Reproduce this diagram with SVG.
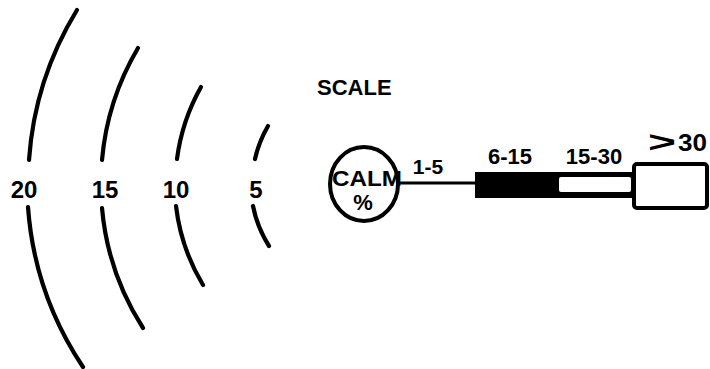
<svg xmlns="http://www.w3.org/2000/svg" width="710" height="369" viewBox="0 0 710 369">
<style>
.arc{fill:none;stroke:#000;stroke-width:4.2;stroke-linecap:round}
.t{font-family:"Liberation Sans",Arial,sans-serif;font-weight:bold;fill:#000}
.ln{fill:none;stroke:#000;stroke-width:3}
</style>
<rect width="710" height="369" fill="#fff"/>
<g id="rings">
<g id="ring20"><path class="arc" d="M77 10 A331 331 0 0 0 29 160"/><path class="arc" d="M28 207 A331 331 0 0 0 83 367"/><text class="t" x="24" y="198" font-size="24" text-anchor="middle">20</text></g>
<g id="ring15"><path class="arc" d="M138 48 A266 266 0 0 0 102 160"/><path class="arc" d="M102 208 A266 266 0 0 0 143 328"/><text class="t" x="105" y="198" font-size="24" text-anchor="middle">15</text></g>
<g id="ring10"><path class="arc" d="M201 87 A198 198 0 0 0 177 159"/><path class="arc" d="M176 206 A198 198 0 0 0 203 285"/><text class="t" x="176" y="198" font-size="24" text-anchor="middle">10</text></g>
<g id="ring5"><path class="arc" d="M268 126 A117 117 0 0 0 255 159"/><path class="arc" d="M253 206 A117 117 0 0 0 269 246"/><text class="t" x="256" y="198" font-size="24" text-anchor="middle">5</text></g>
</g>
<g id="connectors">
<line class="ln" x1="400" y1="183" x2="476" y2="183"/>
</g>
<g id="title"><text class="t" x="317" y="95" font-size="22">SCALE</text></g>
<g id="calm">
<ellipse cx="364" cy="184" rx="34" ry="37" fill="none" stroke="#000" stroke-width="4"/>
<text class="t" x="367" y="186" font-size="22" text-anchor="middle" textLength="70" lengthAdjust="spacingAndGlyphs">CALM</text>
<text class="t" x="363" y="210" font-size="22" text-anchor="middle">%</text>
</g>
<g id="bar">
<rect x="475" y="172" width="159" height="26" fill="#000"/>
<rect x="559" y="177" width="72" height="15" rx="2" fill="#fff"/>
</g>
<g id="box">
<rect x="634" y="164" width="73" height="44" rx="3" fill="#fff" stroke="#000" stroke-width="4"/>
</g>
<g id="labels">
<text class="t" x="428" y="174" font-size="21" text-anchor="middle">1-5</text>
<text class="t" x="510" y="164" font-size="22" text-anchor="middle">6-15</text>
<text class="t" x="594" y="164" font-size="22" text-anchor="middle">15-30</text>
<text class="t" transform="translate(648,152) scale(2,1.2)" x="0" y="0" font-size="24">&gt;</text>
<text class="t" x="678" y="151" font-size="23" textLength="29" lengthAdjust="spacingAndGlyphs">30</text>
</g>
</svg>
